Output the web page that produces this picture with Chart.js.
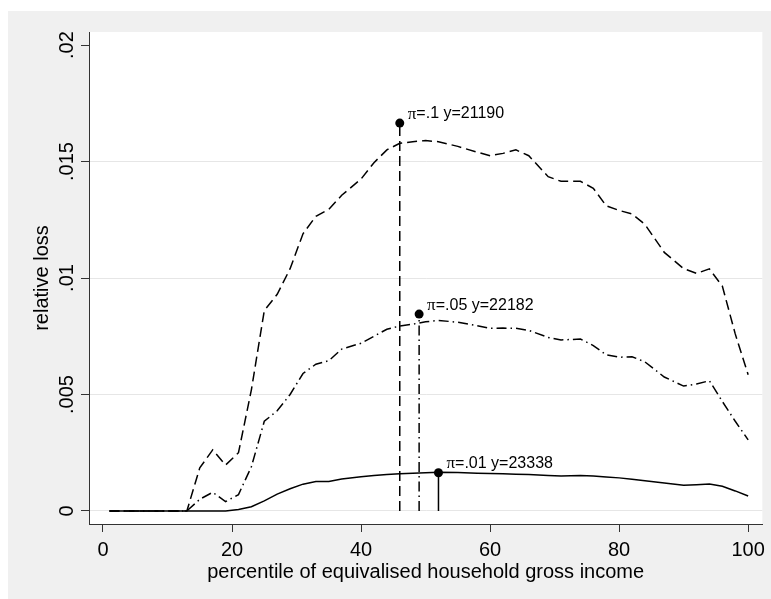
<!DOCTYPE html>
<html>
<head>
<meta charset="utf-8">
<script src="https://cdn.jsdelivr.net/npm/chart.js@4.4.0/dist/chart.umd.min.js"></script>
<style>
  html, body { margin: 0; padding: 0; background: #fff; }
  canvas { display: block; }
</style>
</head>
<body>
<canvas id="myChart" width="771" height="599"></canvas>
<script>
const pctX = [1, 13, 15, 17, 19, 21, 23, 25, 27, 29, 31, 33, 35, 37, 40, 42, 44, 46, 48, 50,
  52, 55, 58, 60, 62, 64, 66, 69, 71, 74, 76, 78, 80, 82, 84, 87, 90, 92, 94, 96, 98, 100];

// relative loss, pi = .1 (dashed)
const lossPi10 = [0, 0, .00185, .00262, .00197, .0025, .0052, .0086, .0093, .0104,
  .0119, .01265, .01295, .01355, .01425, .01495, .0155, .01578, .01585, .0159,
  .01585, .01565, .0154, .01525, .01535, .0155, .01525, .01435, .01415, .01415,
  .01385, .0131, .0129, .01275, .0123, .0111, .0104, .0102, .01039, .00965,
  .0076, .00585];

// relative loss, pi = .05 (dash-dot)
const lossPi05 = [0, 0, .0005, .0008, .0004, .0007, .0019, .00385, .0043, .005,
  .0059, .0063, .00645, .00695, .0072, .0075, .0078, .00794, .00802, .00812,
  .00818, .0081, .00795, .00784, .00785, .00784, .00775, .00745, .00734, .00738,
  .0071, .0067, .0066, .00662, .0064, .00575, .00536, .00545, .00559, .0047,
  .00385, .00305];

// relative loss, pi = .01 (solid)
const lossPi01 = [0, 0, 0, 0, 0, .00006, .00018, .00043, .00072, .00095,
  .00115, .00126, .00126, .00137, .00147, .00152, .00157, .0016, .00162, .00164,
  .00166, .00165, .00162, .00161, .0016, .00158, .00156, .00152, .0015, .00152,
  .0015, .00146, .00142, .00136, .0013, .0012, .0011, .00113, .00116, .00106,
  .00086, .00064];

// marked optimum of each curve
const optX = [46, 49, 52];
const optY = [.01665, .00845, .00164];
const optPi = ['.1', '.05', '.01'];
const optIncome = ['21190', '22182', '23338'];

const xTicks = [0, 20, 40, 60, 80, 100];
const yTicks = [0, .005, .01, .015, .02];
const yTickLabels = ['0', '.005', '.01', '.015', '.02'];

const FONT = "'Liberation Sans', Arial, sans-serif";
const dashes = [[10, 5], [10, 4, 1.5, 4], []];

function curve(values, dash) {
  return {
    data: pctX.map((x, i) => ({x: x, y: values[i]})),
    borderColor: '#000',
    borderWidth: 1.5,
    borderDash: dash,
    pointRadius: 0,
    tension: 0,
    fill: false
  };
}

function spike(i) {
  return {
    data: [{x: optX[i], y: 0}, {x: optX[i], y: optY[i]}],
    borderColor: '#000',
    borderWidth: 1.5,
    borderDash: dashes[i],
    pointRadius: [0, 4.5],
    pointBackgroundColor: '#000',
    pointBorderWidth: 0,
    tension: 0,
    fill: false
  };
}

const backdrop = {
  id: 'backdrop',
  beforeDraw(chart) {
    const {ctx, chartArea: a} = chart;
    ctx.save();
    ctx.fillStyle = '#fff';
    ctx.fillRect(0, 0, chart.width, chart.height);
    ctx.fillStyle = '#f0f0f0';
    ctx.fillRect(8, 11, chart.width - 8, chart.height - 11);
    ctx.fillStyle = '#fff';
    ctx.fillRect(a.left, a.top, a.right - a.left, a.bottom - a.top);
    ctx.restore();
  }
};

const labels = {
  id: 'labels',
  afterDraw(chart) {
    const {ctx} = chart;
    const xs = chart.scales.x, ys = chart.scales.y;
    ctx.save();
    ctx.fillStyle = '#000';
    // rotated y tick labels
    ctx.font = '20px ' + FONT;
    ctx.textAlign = 'center';
    ctx.textBaseline = 'alphabetic';
    yTicks.forEach((v, i) => {
      ctx.save();
      ctx.translate(73, ys.getPixelForValue(v));
      ctx.rotate(-Math.PI / 2);
      ctx.fillText(yTickLabels[i], 0, 0);
      ctx.restore();
    });
    // notes next to the markers
    ctx.textAlign = 'left';
    ctx.textBaseline = 'middle';
    optX.forEach((v, i) => {
      let px = xs.getPixelForValue(v) + 8;
      const py = ys.getPixelForValue(optY[i]) - 9;
      ctx.font = '17px "Liberation Serif", serif';
      ctx.fillText('\u03c0', px, py);
      px += ctx.measureText('\u03c0').width;
      ctx.font = '16px ' + FONT;
      ctx.fillText('=' + optPi[i] + ' y=' + optIncome[i], px, py);
    });
    ctx.restore();
  }
};

new Chart(document.getElementById('myChart'), {
  type: 'line',
  data: {
    datasets: [
      curve(lossPi10, dashes[0]),
      curve(lossPi05, dashes[1]),
      curve(lossPi01, dashes[2]),
      spike(0), spike(1), spike(2)
    ]
  },
  options: {
    responsive: false,
    animation: false,
    layout: {padding: {top: 32, right: 8, left: 0, bottom: 0}},
    plugins: {legend: {display: false}, tooltip: {enabled: false}},
    scales: {
      x: {
        type: 'linear',
        min: -2.17,
        max: 102.2,
        afterBuildTicks: s => { s.ticks = xTicks.map(v => ({value: v})); },
        afterFit: s => { s.height = 75; },
        grid: {drawOnChartArea: false, tickLength: 8, tickColor: '#333', tickWidth: 1},
        border: {display: true, color: '#333', width: 1},
        ticks: {font: {family: FONT, size: 20}, color: '#000', padding: 6, maxRotation: 0, autoSkip: false},
        title: {display: true, text: 'percentile of equivalised household gross income',
          font: {family: FONT, size: 20}, color: '#000', padding: {top: 0, bottom: 15}}
      },
      y: {
        type: 'linear',
        min: -0.00056,
        max: 0.02056,
        afterBuildTicks: s => { s.ticks = yTicks.map(v => ({value: v})); },
        afterFit: s => { s.width = 89; },
        grid: {
          color: c => (c.tick && c.tick.value === .02) ? 'rgba(0,0,0,0)' : '#e6e6e6',
          tickLength: 8, tickColor: '#333', tickWidth: 1
        },
        border: {display: true, color: '#333', width: 1},
        ticks: {display: false},
        title: {display: true, text: 'relative loss',
          font: {family: FONT, size: 20}, color: '#000', padding: {top: 30, bottom: 0}}
      }
    }
  },
  plugins: [backdrop, labels]
});
</script>
</body>
</html>
